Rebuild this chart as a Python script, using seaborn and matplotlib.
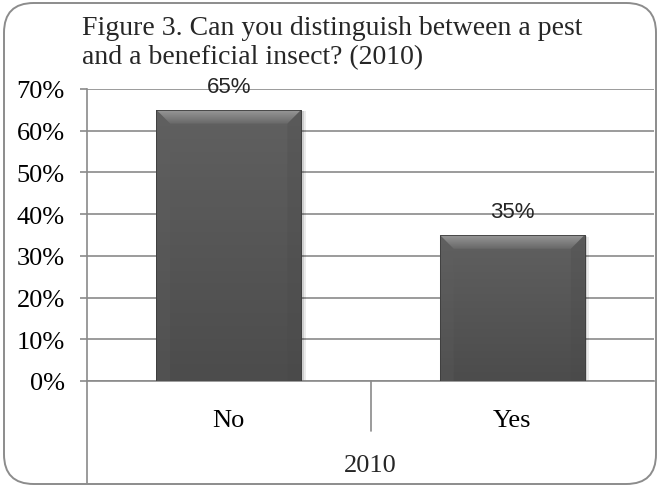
import matplotlib
matplotlib.use("Agg")
import matplotlib.pyplot as plt
import seaborn as sns
import pandas as pd
import numpy as np
from matplotlib.patches import FancyBboxPatch, Polygon, Rectangle
from matplotlib.colors import LinearSegmentedColormap
from matplotlib.ticker import PercentFormatter

categories = ["No", "Yes"]
values = [0.65, 0.35]
group_label = "2010"
title = "Figure 3. Can you distinguish between a pest\nand a beneficial insect? (2010)"
yticks = [0, 0.1, 0.2, 0.3, 0.4, 0.5, 0.6, 0.7]

sns.set_theme(style="white")
SERIF = ["Liberation Serif", "DejaVu Serif"]
SANS = ["Liberation Sans", "DejaVu Sans"]
plt.rcParams["font.family"] = SERIF

W, H = 660, 489
fig = plt.figure(figsize=(W / 100, H / 100), dpi=100)
fig.patch.set_facecolor("white")

# outer rounded border
border = FancyBboxPatch((4 / W, 4 / H), (W - 8) / W, (H - 8) / H,
                        boxstyle="round,pad=0,rounding_size=0.045",
                        transform=fig.transFigure, fill=False,
                        edgecolor="#8c8c8c", linewidth=1.4,
                        mutation_aspect=W / H)
fig.patches.append(border)

ax = fig.add_axes([87 / W, 1 - 382 / H, (654 - 87) / W, (382 - 90) / H])
df = pd.DataFrame({"cat": categories, "val": values})
sns.barplot(data=df, x="cat", y="val", ax=ax, color="#5a5a5a",
            width=0.51, saturation=1, edgecolor="#404040", linewidth=0.5,
            zorder=3)

ax.set_xlim(-0.5, 1.5)
ax.set_ylim(0, 0.7)
ax.set_yticks(yticks)
ax.yaxis.set_major_formatter(PercentFormatter(1.0, decimals=0))
ax.grid(axis="y", color="#8a8a8a", linewidth=1.2, zorder=0)
ax.grid(axis="x", visible=False)
for s in ["top", "right"]:
    ax.spines[s].set_visible(False)
for s in ["left", "bottom"]:
    ax.spines[s].set_color("#8a8a8a")
    ax.spines[s].set_linewidth(1.2)
ax.tick_params(axis="y", which="major", left=True, length=5, width=1.2,
               color="#8a8a8a", labelsize=19, pad=11, labelcolor="black")
ax.tick_params(axis="x", bottom=False, labelsize=19, pad=14,
               labelcolor="black")
ax.set_xlabel("")
ax.set_ylabel("")
for lab in ax.get_xticklabels() + ax.get_yticklabels():
    lab.set_fontfamily(SERIF)

grad = LinearSegmentedColormap.from_list("g", ["#4c4c4c", "#606060"])
bev = LinearSegmentedColormap.from_list("b", ["#686868", "#979797"])
bars = list(ax.patches)
for p in bars:
    x0, y0 = p.get_x(), p.get_y()
    w, h = p.get_width(), p.get_height()
    # soft shadow
    for k, a in [(0.012, 0.08), (0.007, 0.12)]:
        ax.add_patch(Rectangle((x0 + k * 0.4, y0), w + k, h - k * 0.3,
                               facecolor="black", alpha=a, edgecolor="none",
                               zorder=2.5))
    # body gradient
    im = ax.imshow(np.linspace(0, 1, 64).reshape(-1, 1), cmap=grad,
                   aspect="auto", origin="lower",
                   extent=(x0, x0 + w, y0, y0 + h), zorder=3.2)
    im.set_clip_path(p)
    # bevel
    bw = w * 0.095
    bh = 0.033
    top = Polygon([(x0, y0 + h), (x0 + w, y0 + h), (x0 + w - bw, y0 + h - bh),
                   (x0 + bw, y0 + h - bh)], closed=True, facecolor="none",
                  edgecolor="none", zorder=4)
    ax.add_patch(top)
    imb = ax.imshow(np.linspace(0, 1, 32).reshape(-1, 1), cmap=bev,
                    aspect="auto", origin="lower",
                    extent=(x0, x0 + w, y0 + h - bh, y0 + h), zorder=4)
    imb.set_clip_path(top)
    left = Polygon([(x0, y0), (x0, y0 + h), (x0 + bw, y0 + h - bh),
                    (x0 + bw, y0)], closed=True, facecolor="#606060",
                   alpha=0.25, edgecolor="none", zorder=3.5)
    ax.add_patch(left)
    right = Polygon([(x0 + w, y0), (x0 + w, y0 + h), (x0 + w - bw, y0 + h - bh),
                     (x0 + w - bw, y0)], closed=True, facecolor="#484848",
                    alpha=0.25, edgecolor="none", zorder=3.5)
    ax.add_patch(right)
    ax.add_patch(Rectangle((x0, y0), w, h, facecolor="none",
                           edgecolor="#3c3c3c", linewidth=0.6, zorder=4.5))
    ax.annotate(f"{h:.0%}", (x0 + w / 2, y0 + h),
                xytext=(0, 13), textcoords="offset points", ha="center",
                va="baseline", fontsize=16, family=SANS, zorder=5)
ax.set_xlim(-0.5, 1.5)
ax.set_ylim(0, 0.7)

# multi-level category axis lines
tr = ax.get_xaxis_transform()
ax.plot([0.5, 0.5], [0, -0.171], transform=tr, color="#8a8a8a", lw=1.2,
        clip_on=False)
ax.plot([-0.5, -0.5], [0, -0.35], transform=tr, color="#8a8a8a", lw=1.2,
        clip_on=False)
ax.text(0.5, -0.288, group_label, transform=tr, ha="center", va="center",
        fontsize=19, family=SERIF)

fig.text(82 / W, 1 - 16 / H, title, ha="left", va="top", fontsize=20,
         family=SERIF, linespacing=1.2)

fig.savefig("out.png", dpi=100)
